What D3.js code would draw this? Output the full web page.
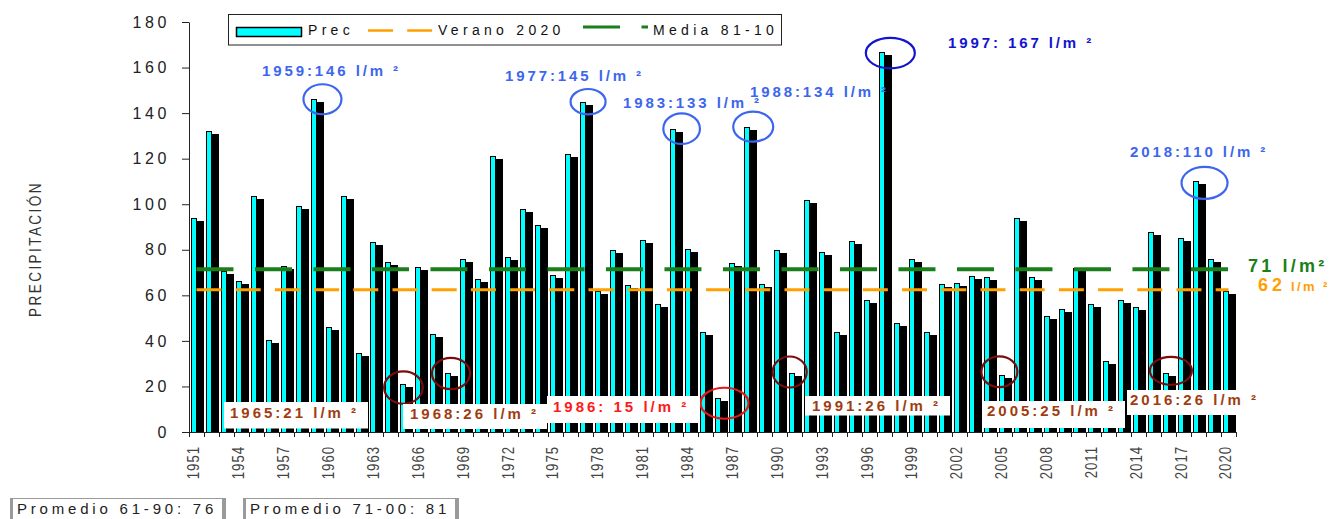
<!DOCTYPE html>
<html>
<head>
<meta charset="utf-8">
<script src="https://cdn.jsdelivr.net/npm/d3@7"></script>
<style>
  body { margin: 0; background: #fff; }
  svg { display: block; font-family: "Liberation Sans", Arial, sans-serif; }
</style>
</head>
<body>
<div id="chart"></div>
<script>
// Data
var years = [1951, 1952, 1953, 1954, 1955, 1956, 1957, 1958, 1959, 1960,
  1961, 1962, 1963, 1964, 1965, 1966, 1967, 1968, 1969, 1970,
  1971, 1972, 1973, 1974, 1975, 1976, 1977, 1978, 1979, 1980,
  1981, 1982, 1983, 1984, 1985, 1986, 1987, 1988, 1989, 1990,
  1991, 1992, 1993, 1994, 1995, 1996, 1997, 1998, 1999, 2000,
  2001, 2002, 2003, 2004, 2005, 2006, 2007, 2008, 2009, 2010,
  2011, 2012, 2013, 2014, 2015, 2016, 2017, 2018, 2019, 2020];

var precip = [94, 132, 70.5, 66.5, 103.5, 40.5, 73, 99, 146, 46,
  103.5, 34.5, 83.5, 74.5, 21, 72.5, 43, 26, 76, 67,
  121, 77, 98, 91, 69, 122, 145, 62, 80, 64.5,
  84.5, 56, 133, 80.5, 44, 15, 74, 134, 65, 80,
  26, 102, 79, 44, 84, 58, 167, 48, 76, 44,
  65, 65.5, 68.5, 68, 25, 94, 68, 51, 54, 72,
  56, 31, 58, 55, 88, 26, 85, 110, 76, 62];

var xTickYears = [1951, 1954, 1957, 1960, 1963, 1966, 1969, 1972, 1975, 1978, 1981, 1984,
  1987, 1990, 1993, 1996, 1999, 2002, 2005, 2008, 2011, 2014, 2017, 2020];
var yTicks = [0, 20, 40, 60, 80, 100, 120, 140, 160, 180];

var mediaValue = 71.5;   // Media 81-10
var veranoValue = 62.5;  // Verano 2020

var highYears = [1959, 1977, 1983, 1988, 1997, 2018];
var highLabels = ["1959:146 l/m \u00B2", "1977:145 l/m \u00B2", "1983:133 l/m \u00B2",
  "1988:134 l/m \u00B2", "1997: 167 l/m \u00B2", "2018:110 l/m \u00B2"];
var lowYears = [1965, 1968, 1986, 1991, 2005, 2016];
var lowLabels = ["1965:21 l/m \u00B2", "1968:26 l/m \u00B2", "1986: 15 l/m \u00B2",
  "1991:26 l/m \u00B2", "2005:25 l/m \u00B2", "2016:26 l/m \u00B2"];

var promedioLabels = ["Promedio 61-90: 76", "Promedio 71-00: 81"];

// Layout of the hand-placed notes (text boxes and ellipse offsets)
var highLayout = [
  {tx: 262, ty: 75.5, dx: 13.8, dy: -0.2, rx: 19, ry: 15, color: "#3d66ee"},
  {tx: 505, ty: 81, dx: 10.2, dy: 0, rx: 17.5, ry: 12.7, color: "#3d66ee"},
  {tx: 623, ty: 108.3, dx: 14, dy: -0.4, rx: 18.3, ry: 15.3, color: "#3d66ee"},
  {tx: 750, ty: 96.7, dx: 10.8, dy: -0.1, rx: 20, ry: 15, color: "#3d66ee"},
  {tx: 948, ty: 48.3, dx: 13.3, dy: 1.5, rx: 24.5, ry: 15.3, color: "#1414cc"},
  {tx: 1130, ty: 156.7, dx: 13.4, dy: 1.5, rx: 23, ry: 16, color: "#3d66ee"}
];
var lowLayout = [
  {bx: 224, by: 402, bw: 144, bh: 26.5, tx: 230, ty: 418.3, dx: 5, dy: 3.4, rx: 19.3, ry: 16.2, color: "#9e3d12", ring: "#7a0c0c"},
  {bx: 403, by: 404, bw: 144, bh: 25, tx: 410, ty: 419, dx: 7.7, dy: 0.7, rx: 19, ry: 15.7, color: "#9e3d12", ring: "#7a0c0c"},
  {bx: 547, by: 396, bw: 153, bh: 27, tx: 553, ty: 411.7, dx: 12, dy: 5.4, rx: 24, ry: 15.5, color: "#ff1a1a", ring: "#e81818"},
  {bx: 805, by: 396, bw: 145, bh: 19.5, tx: 812, ty: 411, dx: 2.4, dy: -0.8, rx: 17, ry: 15.5, color: "#9e3d12", ring: "#7a0c0c"},
  {bx: 982, by: 401, bw: 143, bh: 27, tx: 987, ty: 416, dx: 2.7, dy: -3.3, rx: 18, ry: 15.3, color: "#9e3d12", ring: "#7a0c0c"},
  {bx: 1127, by: 390, bw: 130, bh: 25, tx: 1130, ty: 405, dx: 9.7, dy: -2, rx: 21, ry: 14, color: "#9e3d12", ring: "#7a0c0c"}
];

// Set up Chart
var svgWidth = 1335;
var svgHeight = 519;

var margin = {
  top: 22,
  right: 99,
  bottom: 87,
  left: 189
};

var width = svgWidth - margin.left - margin.right;
var height = svgHeight - margin.top - margin.bottom;

var svg = d3.select("#chart")
  .append("svg")
  .attr("width", svgWidth)
  .attr("height", svgHeight);

var chartGroup = svg.append("g")
  .attr("transform", `translate(${margin.left}, ${margin.top})`);

// Scales
var xBandScale = d3.scaleBand()
  .domain(years)
  .range([0, width]);

var yLinearScale = d3.scaleLinear()
  .domain([0, 180])
  .range([height, 0]);

var bw = xBandScale.bandwidth();
var bandX = d => Math.round(xBandScale(d));

// Bars: black shadow behind, cyan bar in front
chartGroup.selectAll(".shadow")
  .data(precip)
  .enter()
  .append("rect")
  .attr("class", "shadow")
  .attr("x", (d, i) => bandX(years[i]) + 5)
  .attr("y", d => Math.round(yLinearScale(d)) + 3)
  .attr("width", 10)
  .attr("height", d => height - Math.round(yLinearScale(d)) - 3)
  .attr("fill", "#000")
  .attr("shape-rendering", "crispEdges");

chartGroup.selectAll(".bar")
  .data(precip)
  .enter()
  .append("rect")
  .attr("class", "bar")
  .attr("x", (d, i) => bandX(years[i]) + 2.5)
  .attr("y", d => Math.round(yLinearScale(d)) + 0.5)
  .attr("width", 5)
  .attr("height", d => height - Math.round(yLinearScale(d)))
  .attr("fill", "#00ffff")
  .attr("stroke", "#000")
  .attr("stroke-width", 1);

// Mean lines
var lineStart = xBandScale(years[0]) + bw / 2;
var lineEnd = xBandScale(years[years.length - 1]) + bw / 2;

chartGroup.append("line")
  .attr("x1", lineStart)
  .attr("x2", lineEnd)
  .attr("y1", yLinearScale(veranoValue))
  .attr("y2", yLinearScale(veranoValue))
  .attr("stroke", "#ffa000")
  .attr("stroke-width", 3)
  .attr("stroke-dasharray", "25,14.2");

chartGroup.append("line")
  .attr("x1", lineStart)
  .attr("x2", lineEnd)
  .attr("y1", yLinearScale(mediaValue))
  .attr("y2", yLinearScale(mediaValue))
  .attr("stroke", "#1a7f1a")
  .attr("stroke-width", 4)
  .attr("stroke-dasharray", "37,21.5");

// Axes
var leftAxis = d3.axisLeft(yLinearScale)
  .tickValues(yTicks)
  .tickSize(7)
  .tickSizeOuter(0)
  .tickPadding(12);

var yAxisGroup = chartGroup.append("g")
  .call(leftAxis);
yAxisGroup.selectAll("text")
  .attr("font-family", "Liberation Sans, Arial, sans-serif")
  .attr("font-size", 16)
  .attr("fill", "#222")
  .style("letter-spacing", "3.6px");
yAxisGroup.selectAll("line, path").attr("stroke", "#222");

var bottomAxis = d3.axisBottom(xBandScale)
  .tickValues(xTickYears)
  .tickSize(0)
  .tickSizeOuter(0);

var xAxisGroup = chartGroup.append("g")
  .attr("transform", `translate(0, ${height})`)
  .call(bottomAxis);
xAxisGroup.select("path").attr("stroke", "#222");
xAxisGroup.selectAll("text")
  .attr("font-family", "Liberation Sans, Arial, sans-serif")
  .attr("font-size", 17)
  .attr("fill", "#444")
  .attr("text-anchor", "end")
  .attr("x", 0)
  .attr("y", 0)
  .attr("dy", "0.36em")
  .attr("transform", `translate(${-bw / 2 + 4.3}, 14) rotate(-90) scale(0.78, 1)`)
  .style("letter-spacing", "1.2px");

// ticks at every band boundary
xAxisGroup.selectAll(".bound")
  .data(years.concat(["end"]))
  .enter()
  .append("line")
  .attr("class", "bound")
  .attr("x1", d => (d === "end" ? Math.round(width) : bandX(d)) + 0.5)
  .attr("x2", d => (d === "end" ? Math.round(width) : bandX(d)) + 0.5)
  .attr("y1", 0)
  .attr("y2", 5)
  .attr("stroke", "#222");

// Axis title
svg.append("text")
  .attr("transform", "translate(35, 249) rotate(-90) scale(0.8, 1)")
  .attr("text-anchor", "middle")
  .attr("dy", "0.36em")
  .attr("font-size", 17)
  .attr("fill", "#333")
  .style("letter-spacing", "3px")
  .text("PRECIPITACIÓN");

// Low-year note boxes
lowLayout.forEach(function(l, i) {
  svg.append("rect")
    .attr("x", l.bx)
    .attr("y", l.by)
    .attr("width", l.bw)
    .attr("height", l.bh)
    .attr("fill", "#fff");
  svg.append("text")
    .attr("x", l.tx)
    .attr("y", l.ty)
    .attr("font-size", 15)
    .attr("font-weight", "bold")
    .attr("fill", l.color)
    .style("letter-spacing", "3px")
    .text(lowLabels[i]);
});

// Ellipses around the notable years
lowLayout.forEach(function(l, i) {
  var yr = lowYears[i];
  var v = precip[years.indexOf(yr)];
  chartGroup.append("ellipse")
    .attr("cx", xBandScale(yr) + l.dx)
    .attr("cy", yLinearScale(v) + l.dy)
    .attr("rx", l.rx)
    .attr("ry", l.ry)
    .attr("fill", "none")
    .attr("stroke", l.ring)
    .attr("stroke-width", 2.2);
});

highLayout.forEach(function(l, i) {
  var yr = highYears[i];
  var v = precip[years.indexOf(yr)];
  chartGroup.append("ellipse")
    .attr("cx", xBandScale(yr) + l.dx)
    .attr("cy", yLinearScale(v) + l.dy)
    .attr("rx", l.rx)
    .attr("ry", l.ry)
    .attr("fill", "none")
    .attr("stroke", l.color)
    .attr("stroke-width", 2.2);
  svg.append("text")
    .attr("x", l.tx)
    .attr("y", l.ty)
    .attr("font-size", 15)
    .attr("font-weight", "bold")
    .attr("fill", l.color)
    .style("letter-spacing", "2.9px")
    .text(highLabels[i]);
});

// Right side labels for the mean lines
svg.append("text")
  .attr("x", 1248)
  .attr("y", 272)
  .attr("font-size", 18)
  .attr("font-weight", "bold")
  .attr("fill", "#1a7f1a")
  .style("letter-spacing", "3.2px")
  .text("71 l/m\u00B2");

var orangeLabel = svg.append("text")
  .attr("x", 1258)
  .attr("y", 291)
  .attr("font-weight", "bold")
  .attr("fill", "#ffa000");
orangeLabel.append("tspan")
  .attr("font-size", 18)
  .style("letter-spacing", "4px")
  .text("62");
orangeLabel.append("tspan")
  .attr("x", 1291)
  .attr("font-size", 13)
  .style("letter-spacing", "2.4px")
  .text("l/m \u00B2");

// Legend
var legend = svg.append("g");
legend.append("rect")
  .attr("x", 228.5)
  .attr("y", 14.5)
  .attr("width", 553)
  .attr("height", 30.5)
  .attr("fill", "#fff")
  .attr("stroke", "#222");
legend.append("rect")
  .attr("x", 236.5)
  .attr("y", 27.5)
  .attr("width", 65)
  .attr("height", 9)
  .attr("fill", "#00ffff")
  .attr("stroke", "#000")
  .attr("stroke-width", 1.5);
legend.append("line")
  .attr("x1", 368).attr("x2", 433)
  .attr("y1", 30.5).attr("y2", 30.5)
  .attr("stroke", "#ffa000")
  .attr("stroke-width", 2.5)
  .attr("stroke-dasharray", "25,14.2");
legend.append("line")
  .attr("x1", 583).attr("x2", 648)
  .attr("y1", 27).attr("y2", 27)
  .attr("stroke", "#1a7f1a")
  .attr("stroke-width", 3)
  .attr("stroke-dasharray", "37,21.5");
[["Prec", 308], ["Verano 2020", 438], ["Media 81-10", 653]].forEach(function(t) {
  legend.append("text")
    .attr("x", t[1])
    .attr("y", 35)
    .attr("font-size", 14)
    .attr("fill", "#111")
    .style("letter-spacing", "4.3px")
    .text(t[0]);
});

// Promedio boxes at the bottom
promedioLabels.forEach(function(p, i) {
  var x0 = i === 0 ? 10 : 243;
  svg.append("rect")
    .attr("x", x0 + 0.5)
    .attr("y", 498.5)
    .attr("width", 215)
    .attr("height", 30)
    .attr("fill", "#fff")
    .attr("stroke", "#9a9a9a");
  svg.append("line")
    .attr("x1", x0 + 1.5).attr("x2", x0 + 1.5)
    .attr("y1", 499).attr("y2", 519)
    .attr("stroke", "#9a9a9a").attr("stroke-width", 3);
  svg.append("line")
    .attr("x1", x0 + 213.5).attr("x2", x0 + 213.5)
    .attr("y1", 499).attr("y2", 519)
    .attr("stroke", "#9a9a9a").attr("stroke-width", 3);
  svg.append("text")
    .attr("x", x0 + 7)
    .attr("y", 513.5)
    .attr("font-size", 15)
    .attr("fill", "#222")
    .style("letter-spacing", "3.8px")
    .text(p);
});
</script>
</body>
</html>
